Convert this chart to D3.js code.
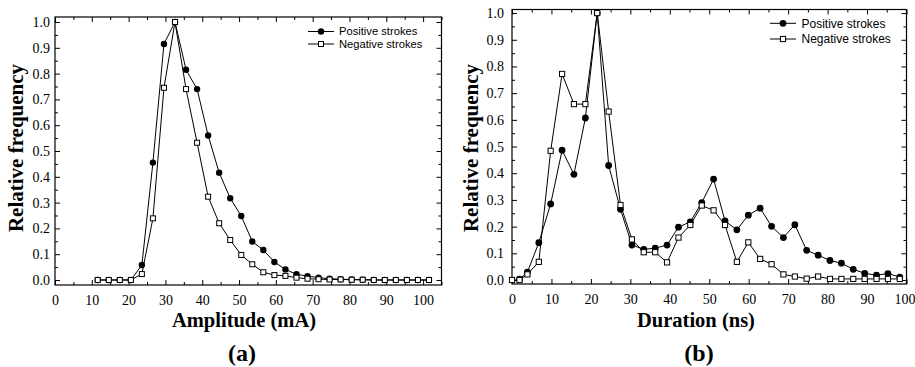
<!DOCTYPE html>
<html>
<head>
<meta charset="utf-8">
<script src="https://cdn.jsdelivr.net/npm/d3@7"></script>
<style>
  body { margin: 0; background: #fff; }
  svg { display: block; }
</style>
</head>
<body>
<div id="chart"></div>
<script>
// panel (a): amplitude distribution
var ampX = [11.6, 14.6, 17.6, 20.6, 23.6, 26.6, 29.6, 32.6, 35.6, 38.6, 41.6, 44.6, 47.6, 50.6, 53.6, 56.6,
	59.6, 62.6, 65.6, 68.6, 71.6, 74.6, 77.6, 80.6, 83.6, 86.6, 89.6, 92.6, 95.6, 98.6, 101.6];
var ampPos = [0, 0, 0, 0, 0.058, 0.455, 0.915, 1.0, 0.815, 0.74, 0.56, 0.416, 0.317, 0.248, 0.149, 0.116,
	0.07, 0.041, 0.022, 0.015, 0.009, 0.005, 0.003, 0.002, 0.001, 0, 0, 0, 0, 0, 0];
var ampNeg = [0, 0, 0, 0, 0.023, 0.239, 0.745, 1.0, 0.74, 0.532, 0.323, 0.22, 0.155, 0.097, 0.061, 0.03,
	0.019, 0.016, 0.009, 0.005, 0.003, 0.002, 0.002, 0.001, 0.001, 0, 0, 0, 0, 0, 0];

// panel (b): duration distribution
var durX = [0, 1.9, 3.9, 6.8, 9.8, 12.7, 15.7, 18.6, 21.6, 24.5, 27.5, 30.4, 33.4, 36.3, 39.3, 42.2, 45.2,
	48.1, 51.1, 54.0, 57.0, 59.9, 62.9, 65.8, 68.8, 71.7, 74.7, 77.6, 80.6, 83.5, 86.5, 89.4, 92.4, 95.3, 98.3];
var durPos = [null, 0.003, 0.029, 0.14, 0.285, 0.486, 0.396, 0.607, 1.0, 0.429, 0.265, 0.131, 0.115, 0.119,
	0.131, 0.198, 0.218, 0.29, 0.378, 0.221, 0.188, 0.243, 0.269, 0.201, 0.159, 0.207, 0.111, 0.093, 0.073,
	0.063, 0.04, 0.025, 0.018, 0.024, 0.011];
var durNeg = [0, 0, 0.021, 0.068, 0.484, 0.772, 0.659, 0.659, 1.0, 0.631, 0.281, 0.152, 0.104, 0.104, 0.066,
	0.159, 0.206, 0.279, 0.261, 0.206, 0.068, 0.141, 0.079, 0.059, 0.021, 0.013, 0.005, 0.013, 0.004, 0.004,
	0.004, 0.004, 0.004, 0.004, 0.004];

var xTicks = [0, 10, 20, 30, 40, 50, 60, 70, 80, 90, 100];
var yTicks = [0, 0.1, 0.2, 0.3, 0.4, 0.5, 0.6, 0.7, 0.8, 0.9, 1.0];
var seriesNames = ["Positive strokes", "Negative strokes"];

var SERIF = "Liberation Serif";
var SANS = "Liberation Sans";

var svg = d3.select("#chart")
	.append("svg")
	.attr("width", 915)
	.attr("height", 367);

function drawPanel(p) {
	var x = d3.scaleLinear().domain(p.xDomain).range(p.xRange);
	var y = d3.scaleLinear().domain(p.yDomain).range(p.yRange);
	var g = svg.append("g");

	var xMinor = d3.range(5, p.xDomain[1] + 0.01, 10);
	var yMinor = d3.range(0.05, 1.0, 0.1);

	// frame with ticks on all four sides
	g.append("rect")
		.attr("x", p.xRange[0]).attr("y", p.yRange[1])
		.attr("width", p.xRange[1] - p.xRange[0])
		.attr("height", p.yRange[0] - p.yRange[1])
		.attr("fill", "none").attr("stroke", "#000").attr("stroke-width", 1.2);

	function tickSet(vals, len, labels) {
		var ax = g.append("g")
			.attr("transform", "translate(0," + p.yRange[0] + ")")
			.call(d3.axisBottom(x).tickValues(vals).tickSizeInner(-len).tickSizeOuter(0)
				.tickPadding(len + 5).tickFormat(labels ? d3.format("d") : () => ""));
		g.append("g")
			.attr("transform", "translate(0," + p.yRange[1] + ")")
			.call(d3.axisTop(x).tickValues(vals).tickSizeInner(-len).tickSizeOuter(0).tickFormat(() => ""));
		g.selectAll(".domain").remove();
		return ax;
	}
	function yTickSet(vals, len, labels) {
		var ax = g.append("g")
			.attr("transform", "translate(" + p.xRange[0] + ",0)")
			.call(d3.axisLeft(y).tickValues(vals).tickSizeInner(-len).tickSizeOuter(0)
				.tickPadding(len + p.yLabelGap).tickFormat(labels ? d3.format(".1f") : () => ""));
		g.append("g")
			.attr("transform", "translate(" + p.xRange[1] + ",0)")
			.call(d3.axisRight(y).tickValues(vals).tickSizeInner(-len).tickSizeOuter(0).tickFormat(() => ""));
		g.selectAll(".domain").remove();
		return ax;
	}
	var xAx = tickSet(xTicks, 5, true);
	tickSet(xMinor, 3, false);
	var yAx = yTickSet(yTicks, 5, true);
	yTickSet(yMinor, 3, false);

	[xAx, yAx].forEach(function(ax) {
		ax.attr("font-family", SERIF).attr("font-size", 14);
		ax.selectAll("text")
			.attr("font-family", SERIF)
			.attr("font-size", 14)
			.attr("fill", "#000");
	});
	// keep the last x label inside the picture
	xAx.selectAll(".tick").filter(d => d == 100).select("text").attr("dx", p.lastDx);

	// series lines + markers
	var pts = function(vals) {
		return p.xs.map((v, i) => ({x: v, y: vals[i]})).filter(d => d.y != null);
	};
	var line = d3.line().x(d => x(d.x)).y(d => y(d.y));
	var neg = pts(p.neg), pos = pts(p.pos);

	g.append("path").datum(pos).attr("d", line)
		.attr("fill", "none").attr("stroke", "#000").attr("stroke-width", 1);
	g.append("path").datum(neg).attr("d", line)
		.attr("fill", "none").attr("stroke", "#000").attr("stroke-width", 1);

	g.append("g").selectAll("circle")
		.data(pos).enter().append("circle")
		.attr("cx", d => x(d.x)).attr("cy", d => y(d.y))
		.attr("r", p.r).attr("fill", "#000");
	g.append("g").selectAll("rect")
		.data(neg).enter().append("rect")
		.attr("x", d => x(d.x) - p.sq / 2).attr("y", d => y(d.y) - p.sq / 2)
		.attr("width", p.sq).attr("height", p.sq)
		.attr("fill", "#fff").attr("stroke", "#000").attr("stroke-width", 1);

	// legend
	var lg = g.append("g");
	seriesNames.forEach(function(name, i) {
		var ly = p.legend.y[i];
		lg.append("line")
			.attr("x1", p.legend.x0).attr("x2", p.legend.x1)
			.attr("y1", ly).attr("y2", ly)
			.attr("stroke", "#000").attr("stroke-width", 1);
		var mx = (p.legend.x0 + p.legend.x1) / 2;
		if (i == 0) {
			lg.append("circle").attr("cx", mx).attr("cy", ly).attr("r", p.r).attr("fill", "#000");
		} else {
			lg.append("rect").attr("x", mx - p.sq / 2).attr("y", ly - p.sq / 2)
				.attr("width", p.sq).attr("height", p.sq)
				.attr("fill", "#fff").attr("stroke", "#000");
		}
		lg.append("text")
			.attr("x", p.legend.tx).attr("y", ly)
			.attr("dy", "0.35em")
			.attr("font-family", SANS).attr("font-size", p.legend.fs).attr("fill", "#000")
			.text(name);
	});

	// axis titles
	g.append("text")
		.attr("x", p.xTitle[0]).attr("y", p.xTitle[1])
		.attr("text-anchor", "middle")
		.attr("font-family", SERIF).attr("font-weight", "bold").attr("font-size", 20.5)
		.text(p.xLabel);
	g.append("text")
		.attr("transform", "translate(" + p.yTitle[0] + "," + p.yTitle[1] + ")rotate(-90)")
		.attr("text-anchor", "middle")
		.attr("font-family", SERIF).attr("font-weight", "bold").attr("font-size", 21)
		.text("Relative frequency");
	g.append("text")
		.attr("x", p.tag[0]).attr("y", p.tag[1])
		.attr("text-anchor", "middle")
		.attr("font-family", SERIF).attr("font-weight", "bold").attr("font-size", 24)
		.text(p.tagText);
}

drawPanel({
	xs: ampX, pos: ampPos, neg: ampNeg,
	xDomain: [0, 105], xRange: [55, 441.5],
	yDomain: [-0.0194, 1.0194], yRange: [285, 17],
	yLabelGap: 0, r: 3.2, sq: 5, lastDx: 0,
	legend: {x0: 308, x1: 334, tx: 339, y: [31.5, 44], fs: 11.2},
	xLabel: "Amplitude (mA)", xTitle: [244, 326.5],
	yTitle: [23, 148], tag: [242, 361], tagText: "(a)"
});

drawPanel({
	xs: durX, pos: durPos, neg: durNeg,
	xDomain: [0, 100], xRange: [512, 906.5],
	yDomain: [-0.015, 1.0134], yRange: [284, 9.5],
	yLabelGap: 3, r: 3.4, sq: 5.2, lastDx: -2,
	legend: {x0: 770, x1: 796, tx: 801.5, y: [23.3, 39], fs: 12},
	xLabel: "Duration (ns)", xTitle: [696, 326.5],
	yTitle: [478, 148], tag: [699, 361], tagText: "(b)"
});
</script>
</body>
</html>
